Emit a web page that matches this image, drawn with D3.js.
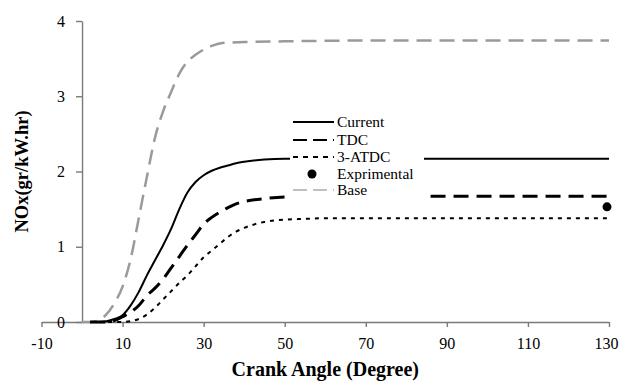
<!DOCTYPE html>
<html>
<head>
<meta charset="utf-8">
<script src="https://cdn.jsdelivr.net/npm/d3@7"></script>
<style>
  html, body { margin: 0; padding: 0; background: #fff; }
  svg { display: block; }
  svg text { font-family: "Liberation Serif", "Times New Roman", Times, "DejaVu Serif", serif; fill: #000; }
</style>
</head>
<body>
<svg id="chart" width="619" height="382"></svg>
<script>
// Crank angle (degrees) and cumulative NOx (gr/kW.hr) for each case
const baseAngle = [0, 2, 4, 6, 8, 10, 12, 14, 16, 18, 20, 22, 24, 26, 28, 30, 32, 35, 40, 50, 70, 130];
const baseNox   = [0, 0, 0.02, 0.1, 0.25, 0.47, 0.84, 1.38, 1.93, 2.45, 2.8, 3.06, 3.3, 3.46, 3.55, 3.62, 3.67, 3.71, 3.72, 3.73, 3.74, 3.74];

const currentAngle = [2, 4, 6, 8, 10, 12, 14, 16, 18, 20, 22, 24, 26, 28, 30, 32, 34, 36, 38, 40, 45, 50, 130];
const currentNox   = [0, 0, 0.01, 0.04, 0.09, 0.22, 0.4, 0.62, 0.82, 1.02, 1.24, 1.5, 1.72, 1.86, 1.95, 2.01, 2.05, 2.08, 2.11, 2.13, 2.16, 2.17, 2.17];

const tdcAngle = [2, 4, 6, 8, 10, 12, 14, 16, 18, 20, 22, 24, 26, 28, 30, 32, 34, 36, 38, 40, 45, 50, 60, 130];
const tdcNox   = [0, 0, 0, 0.02, 0.07, 0.13, 0.22, 0.35, 0.45, 0.57, 0.72, 0.87, 1.02, 1.16, 1.3, 1.39, 1.46, 1.52, 1.57, 1.6, 1.64, 1.66, 1.67, 1.67];

const atdcAngle = [2, 6, 10, 12, 14, 16, 18, 20, 22, 24, 26, 28, 30, 32, 34, 36, 38, 40, 45, 50, 55, 60, 130];
const atdcNox   = [0, 0, 0, 0.01, 0.04, 0.1, 0.19, 0.3, 0.41, 0.52, 0.62, 0.74, 0.86, 0.95, 1.04, 1.13, 1.2, 1.25, 1.33, 1.36, 1.37, 1.38, 1.38];

const expAngle = [130];
const expNox   = [1.53];

const xTicks = [-10, 10, 30, 50, 70, 90, 110, 130];
const yTicks = [0, 1, 2, 3, 4];

const legendNames = ["Current", "TDC", "3-ATDC", "Exprimental", "Base"];

const svg = d3.select("#chart");

const x = d3.scaleLinear().domain([-10, 130]).range([41.5, 609]);
const y = d3.scaleLinear().domain([0, 4]).range([322, 21]);

const zip = (a, v) => a.map((d, i) => [d, v[i]]);
const line = d3.line().x(d => x(d[0])).y(d => y(d[1])).curve(d3.curveMonotoneX);

const axisColor = "#7a7a7a";
const fmt = d => String(d);

// X axis along NOx = 0
const xAxis = svg.append("g")
  .attr("transform", `translate(0,${y(0)})`)
  .call(d3.axisBottom(x).tickValues(xTicks).tickFormat(fmt).tickSize(5).tickSizeOuter(0).tickPadding(11));
xAxis.attr("font-family", null).attr("font-size", 16);
xAxis.select(".domain").attr("stroke", axisColor).attr("stroke-width", 1.4);
xAxis.selectAll(".tick line").attr("stroke", axisColor).attr("stroke-width", 1.4);
// keep the last label inside the frame
xAxis.selectAll(".tick text").filter(d => d === xTicks[xTicks.length - 1]).attr("x", -3);

// Y axis at crank angle 0
const yAxis = svg.append("g")
  .attr("transform", `translate(${x(0)},0)`)
  .call(d3.axisLeft(y).tickValues(yTicks).tickFormat(fmt).tickSize(6).tickSizeOuter(0).tickPadding(11));
yAxis.attr("font-family", null).attr("font-size", 16);
yAxis.select(".domain").attr("stroke", axisColor).attr("stroke-width", 1.4);
yAxis.selectAll(".tick line").attr("stroke", axisColor).attr("stroke-width", 1.4);

// Curves
const series = [
  { pts: zip(baseAngle, baseNox), color: "#9a9a9a", width: 2.5, dash: "15,8" },
  { pts: zip(atdcAngle, atdcNox), color: "#000", width: 2, dash: "4,5" },
  { pts: zip(tdcAngle, tdcNox), color: "#000", width: 3, dash: "15,8" },
  { pts: zip(currentAngle, currentNox), color: "#000", width: 2, dash: null }
];
svg.append("g").selectAll("path").data(series).join("path")
  .attr("d", d => line(d.pts))
  .attr("fill", "none")
  .attr("stroke", d => d.color)
  .attr("stroke-width", d => d.width)
  .attr("stroke-dasharray", d => d.dash);

// Measured point
svg.append("g").selectAll("circle").data(zip(expAngle, expNox)).join("circle")
  .attr("cx", d => x(d[0]) - 2)
  .attr("cy", d => y(d[1]))
  .attr("r", 4.5)
  .attr("fill", "#000");

// Legend with opaque background
const legend = svg.append("g");
legend.append("rect").attr("x", 290).attr("y", 112).attr("width", 134).attr("height", 90).attr("fill", "#fff");
const rowY = [122, 140, 157, 174, 190];
const sampleStyles = [
  { color: "#000", width: 2, dash: null },
  { color: "#000", width: 2, dash: "14,6" },
  { color: "#000", width: 2, dash: "5,5" },
  null,
  { color: "#aaa", width: 1.5, dash: "14,6" }
];
legendNames.forEach((name, i) => {
  const s = sampleStyles[i];
  if (s) {
    legend.append("line")
      .attr("x1", 293).attr("x2", 334).attr("y1", rowY[i]).attr("y2", rowY[i])
      .attr("stroke", s.color).attr("stroke-width", s.width).attr("stroke-dasharray", s.dash);
  } else {
    legend.append("circle").attr("cx", 312).attr("cy", rowY[i]).attr("r", 4.5).attr("fill", "#000");
  }
  legend.append("text")
    .attr("x", 337).attr("y", rowY[i]).attr("dy", "0.33em")
    .attr("font-size", 15.5)
    .text(name);
});

// Axis titles
svg.append("text")
  .attr("x", (x(-10) + x(130)) / 2).attr("y", 376)
  .attr("text-anchor", "middle").attr("font-size", 20).attr("font-weight", "bold")
  .text("Crank Angle (Degree)");

svg.append("text")
  .attr("transform", `translate(28,${(y(0) + y(4)) / 2}) rotate(-90)`)
  .attr("text-anchor", "middle").attr("font-size", 18.5).attr("font-weight", "bold")
  .text("NOx(gr/kW.hr)");
</script>
</body>
</html>
